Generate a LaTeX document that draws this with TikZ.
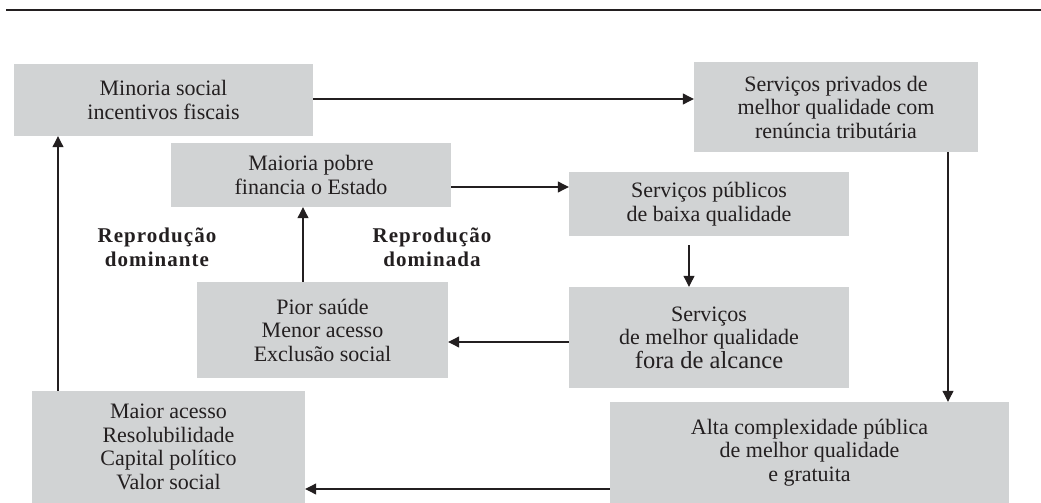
\documentclass[tikz,border=0pt]{standalone}
\usepackage{fontspec}
\setmainfont{Liberation Serif}
\usetikzlibrary{arrows.meta}
\definecolor{boxgray}{HTML}{D1D3D4}
\definecolor{ink}{HTML}{231F20}
\tikzset{
  box/.style={fill=boxgray, draw=none, inner sep=0pt, align=center, text=ink,
    font=\fontsize{22}{23.5}\selectfont},
  conn/.style={draw=ink, line width=1.1pt, -{Triangle[length=11pt,width=11pt]}},
  lbl/.style={align=center, text=ink,
    font=\fontsize{21}{24}\selectfont\bfseries\addfontfeature{LetterSpace=5}},
}
\begin{document}
\begin{tikzpicture}[x=1pt,y=-1pt]
\useasboundingbox (0,0) rectangle (1041,503);
\coordinate (ruleL) at (6,10);
\coordinate (ruleR) at (1041,10);
\draw[ink, line width=1.5pt] (ruleL) -- (ruleR);

\node[box, minimum width=299pt, minimum height=72pt] (A) at (163.5,100)
  {Minoria social\\incentivos fiscais};
\node[box, minimum width=284pt, minimum height=90pt] (B) at (836,107)
  {Serviços privados de\\melhor qualidade com\\renúncia tributária};
\node[box, minimum width=280pt, minimum height=64pt] (C) at (311,175)
  {Maioria pobre\\financia o Estado};
\node[box, minimum width=280pt, minimum height=64pt] (D) at (709,204)
  {Serviços públicos\\de baixa qualidade};
\node[box, minimum width=280pt, minimum height=101pt] (E) at (709,337.5)
  {Serviços\\de melhor qualidade\\{\fontsize{24.5}{24}\selectfont fora de alcance}};
\node[box, minimum width=251pt, minimum height=96pt] (F) at (322.5,330)
  {Pior saúde\\Menor acesso\\Exclusão social};
\node[box, minimum width=399pt, minimum height=101pt] (G) at (809.5,452.5)
  {Alta complexidade pública\\de melhor qualidade\\e gratuita};
\node[box, minimum width=273pt, minimum height=112pt] (H) at (168.5,447)
  {Maior acesso\\Resolubilidade\\Capital político\\Valor social};

\node[lbl] (L1) at (157,247) {Reprodução\\dominante};
\node[lbl] (L2) at (432,247) {Reprodução\\dominada};

\draw[conn] ([yshift=1pt]A.east) -- ([yshift=8pt]B.west);
\draw[conn] ([yshift=-12pt]C.east) -- ([yshift=17pt]D.west);
\draw[conn] ([xshift=-20pt,yshift=-9pt]D.south) -- ([xshift=-20pt]E.north);
\draw[conn] ([yshift=-4.5pt]E.west) -- ([yshift=-12pt]F.east);
\draw[conn] ([xshift=-19.5pt]F.north) -- ([xshift=-8pt]C.south);
\draw[conn] ([xshift=112pt]B.south) -- ([xshift=138.5pt]G.north);
\draw[conn] ([yshift=-36.5pt]G.west) -- ([yshift=-42pt]H.east);
\draw[conn] ([xshift=-110.5pt]H.north) -- ([xshift=-105.5pt]A.south);
\end{tikzpicture}
\end{document}
